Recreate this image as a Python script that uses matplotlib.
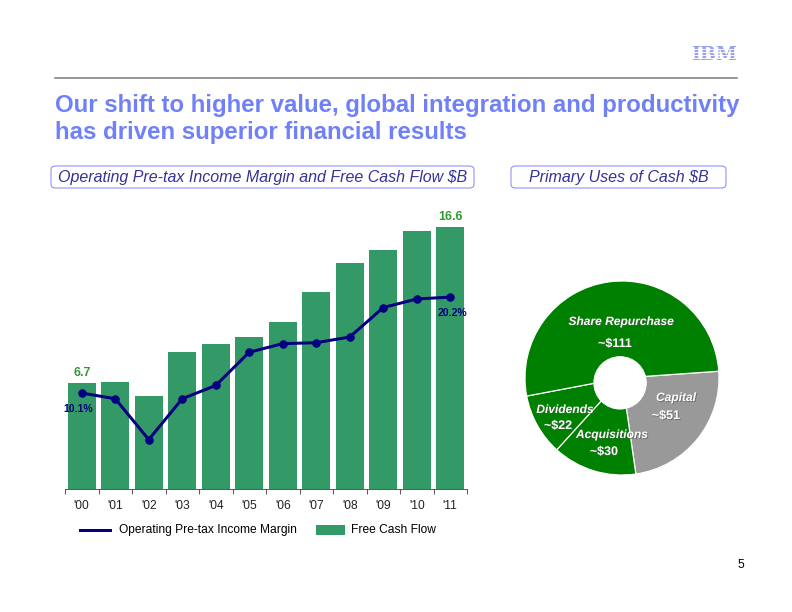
import matplotlib
matplotlib.use("Agg")
import matplotlib.pyplot as plt
import matplotlib.patheffects as pe
from matplotlib.patches import FancyBboxPatch
from matplotlib.lines import Line2D
from matplotlib.patches import Rectangle

plt.rcParams['font.family'] = ['Liberation Sans', 'DejaVu Sans']

# data
years = ["'00", "'01", "'02", "'03", "'04", "'05", "'06", "'07", "'08", "'09", "'10", "'11"]
free_cash_flow = [6.7, 6.8, 5.9, 8.7, 9.2, 9.6, 10.6, 12.5, 14.3, 15.1, 16.3, 16.6]
pretax_margin = [10.1, 9.5, 5.2, 9.5, 10.9, 14.4, 15.3, 15.4, 16.0, 19.1, 20.0, 20.2]

cash_uses = ["Capital", "Acquisitions", "Dividends", "Share Repurchase"]
cash_amounts = [51, 30, 22, 111]

W, H = 792, 612
BAR_GREEN = '#339966'
NAVY = '#000080'
TITLE_BLUE = '#7080f8'


def fx(x):
    return x / W


def fy(y):
    return 1 - y / H


fig = plt.figure(figsize=(11, 8.5), dpi=72)

# header: IBM logo (striped) and rule
fig.text(fx(714), fy(55), "IBM", fontsize=19, fontweight='bold', color='#98a2f0',
         family='DejaVu Serif', ha='center', va='center')
for yy in [49, 52, 55, 58, 61]:
    fig.add_artist(Line2D([fx(686), fx(745)], [fy(yy), fy(yy)], color='white', lw=0.9, zorder=10))
fig.add_artist(Line2D([fx(55), fx(737)], [fy(78), fy(78)], color='#777777', lw=1.5))

fig.text(fx(55), fy(105), "Our shift to higher value, global integration and productivity",
         fontsize=24, fontweight='bold', color=TITLE_BLUE, ha='left', va='center')
fig.text(fx(55), fy(133), "has driven superior financial results",
         fontsize=24, fontweight='bold', color=TITLE_BLUE, ha='left', va='center')

# subtitle boxes
for x0, x1, label in [(51, 474, "Operating Pre-tax Income Margin and Free Cash Flow $B"),
                      (511, 726, "Primary Uses of Cash $B")]:
    box = FancyBboxPatch((fx(x0), fy(188)), fx(x1 - x0), 22 / H,
                         boxstyle="round,pad=0,rounding_size=0.006",
                         transform=fig.transFigure, facecolor='white',
                         edgecolor='#8088ff', lw=1)
    fig.add_artist(box)
    fig.text(fx((x0 + x1) / 2), fy(177.5), label, fontsize=16, style='italic',
             color='#333399', ha='center', va='center')

# bar + line chart
base_px, top_px = 489, 200
left_px, right_px = 65, 467
ax = fig.add_axes([fx(left_px), fy(base_px), fx(right_px - left_px), (base_px - top_px) / H])
px_per_b = 15.8
px_per_pct = 9.5
x = list(range(len(years)))
ax.bar(x, free_cash_flow, width=0.84, color=BAR_GREEN, zorder=1)
ax.set_xlim(-0.5, len(years) - 0.5)
ax.set_ylim(0, (base_px - top_px) / px_per_b)
for s in ['top', 'right', 'left']:
    ax.spines[s].set_visible(False)
ax.spines['bottom'].set_color('#333333')
ax.set_yticks([])
ax.set_xticks([i - 0.5 for i in range(len(years) + 1)])
ax.set_xticklabels([])
ax.set_xticks(x, minor=True)
ax.set_xticklabels(years, minor=True, fontsize=12, color='#222222')
ax.tick_params(axis='x', which='major', length=5, direction='out', color='#333333')
ax.tick_params(axis='x', which='minor', length=0, pad=11)

for i in (0, len(years) - 1):
    ax.annotate(f"{free_cash_flow[i]}", (i, free_cash_flow[i]), xytext=(0, 10),
                textcoords='offset points', ha='center', va='center',
                fontsize=12.5, fontweight='bold', color='#339933')

ax2 = ax.twinx()
ax2.plot(x, pretax_margin, color=NAVY, lw=3, marker='o', markersize=7.5, zorder=3)
ax2.set_ylim(0, (base_px - top_px) / px_per_pct)
ax2.axis('off')
ax2.annotate(f"{pretax_margin[0]}%", (0, pretax_margin[0]), xytext=(-4, -16),
             textcoords='offset points', ha='center', va='center',
             fontsize=10.5, fontweight='bold', color=NAVY)
ax2.annotate(f"{pretax_margin[-1]}%", (len(years) - 1, pretax_margin[-1]), xytext=(2, -16),
             textcoords='offset points', ha='center', va='center',
             fontsize=10.5, fontweight='bold', color=NAVY)

# legend
fig.add_artist(Line2D([fx(80), fx(110)], [fy(530), fy(530)], color=NAVY, lw=3))
fig.text(fx(119), fy(530), "Operating Pre-tax Income Margin", fontsize=12, va='center')
fig.add_artist(Rectangle((fx(316), fy(535)), fx(29), 10 / H, transform=fig.transFigure,
                         facecolor=BAR_GREEN, edgecolor='none'))
fig.text(fx(351), fy(530), "Free Cash Flow", fontsize=12, va='center')

# donut
cx, cy, r = 622, 378, 97
pax = fig.add_axes([fx(cx - r), fy(cy + r), fx(2 * r), 2 * r / H])
colors = ['#999999', '#008000', '#008000', '#008000']
pax.pie(cash_amounts, colors=colors, startangle=4, counterclock=False,
        wedgeprops=dict(edgecolor='white', linewidth=1.2), radius=1)
pax.add_artist(plt.Circle((-0.02, -0.05), 0.27, color='white', zorder=5))
pax.set_aspect('equal')
pax.set_xlim(-1, 1)
pax.set_ylim(-1, 1)
pax.axis('off')

shadow = [pe.withSimplePatchShadow(offset=(1, -1), shadow_rgbFace='#555555', alpha=0.6)]
pie_labels = [(676, 398, 666, 416), (612, 435, 604, 452), (565, 410, 558, 426), (621, 322, 615, 344)]
for name, amt, (lx, ly, vx, vy) in zip(cash_uses, cash_amounts, pie_labels):
    fig.text(fx(lx), fy(ly), name, fontsize=12, style='italic', fontweight='bold',
             color='white', ha='center', va='center', path_effects=shadow)
    fig.text(fx(vx), fy(vy), f"~${amt}", fontsize=12.5, fontweight='bold',
             color='white', ha='center', va='center', path_effects=shadow)

fig.text(fx(741), fy(565), "5", fontsize=12, ha='center', va='center')

fig.savefig("out.png", dpi=72)
